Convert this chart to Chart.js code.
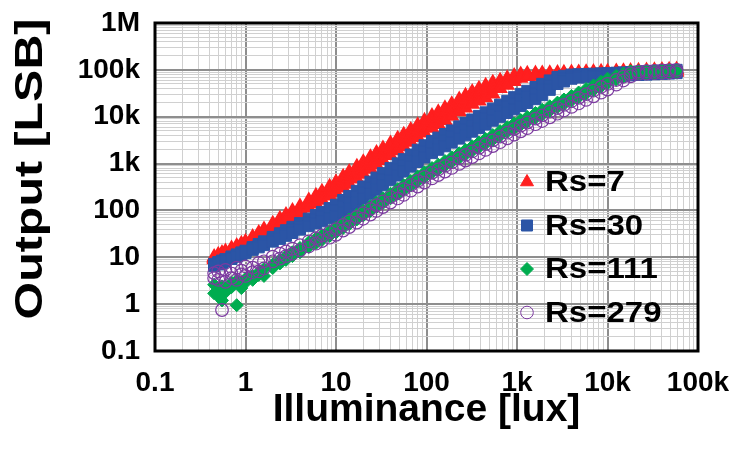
<!DOCTYPE html>
<html>
<head>
<meta charset="utf-8">
<title>Output vs Illuminance</title>
<script src="https://cdn.jsdelivr.net/npm/chart.js@4.4.1/dist/chart.umd.min.js"></script>
<style>
	html, body { margin: 0; padding: 0; background: #fff; }
	#wrap { width: 732px; height: 455px; }
</style>
</head>
<body>
<div id="wrap"><canvas id="chart" width="732" height="455"></canvas></div>
<script>
// illuminance steps (lux), shared by all four curves
var lux = [0.45, 0.5, 0.55, 0.6, 0.7, 0.8, 0.9, 1, 1.2, 1.4, 1.6, 2, 2.4, 2.8, 3.3, 4, 5, 6, 7, 8.5,
	10, 12, 14, 17, 20, 24, 28, 33, 40, 48, 56, 67, 80, 95, 115, 135, 160, 190, 230, 270,
	320, 380, 450, 540, 650, 780, 930, 1100, 1300, 1600, 1900, 2300, 2800, 3300, 4000, 4800, 5800, 7000, 8500, 10000,
	12500, 15000, 18000, 22000, 27000, 33000, 40000, 48000, 58000];

// output [LSB] per Rs: readings across the width of each band
var rs7Upper = [10.2, 11.3, 12.3, 13.3, 15.4, 17.4, 19.4, 21.4, 27, 33, 39.2, 52, 66.4, 80.2, 97.7, 122, 163, 205, 249, 321,
	398, 522, 659, 857, 1070, 1370, 1690, 2110, 2690, 3400, 4140, 5210, 6550, 8170, 10300, 12400, 15100, 18500, 23200, 27900,
	33600, 39400, 46000, 53200, 58900, 66100, 74100, 79400, 82200, 83200, 84100, 85100, 85900, 86700, 87500, 88300, 89100, 89900, 90800, 91600,
	92700, 93500, 94400, 95500, 96600, 97700, 98900, 100000, 101200];
var rs7Mid = [9.55, 10.5, 11.5, 12.4, 14.4, 16.3, 18.1, 20, 24.9, 30.1, 35.3, 46.3, 57.8, 69.8, 85.1, 107, 139, 173, 207, 261,
	316, 406, 500, 650, 813, 1040, 1290, 1600, 2040, 2580, 3140, 3950, 4970, 6190, 7800, 9400, 11500, 14100, 17600, 21200,
	25500, 29900, 34900, 41300, 49000, 56200, 64600, 72400, 77600, 78000, 78900, 79800, 80500, 81300, 82000, 82800, 83600, 84300, 85100, 85900,
	86900, 87700, 88500, 89500, 90600, 91600, 92700, 93800, 94800];
var rs7Lower = [8.9, 9.8, 10.7, 11.6, 13.4, 15.2, 16.9, 18.6, 23.2, 28.1, 33, 38.5, 48.1, 58.1, 70.8, 88.7, 113, 139, 164, 202,
	240, 301, 362, 471, 589, 755, 931, 1160, 1480, 1870, 2280, 2860, 3600, 4490, 5650, 6810, 8320, 10200, 12700, 15300,
	18500, 21600, 25300, 30600, 39800, 46800, 56200, 66100, 72400, 73300, 74100, 75000, 75700, 76400, 77100, 77800, 78500, 79300, 80000, 80700,
	81700, 82400, 83200, 84100, 85100, 86100, 87100, 88100, 89100];

var rs30Upper = [7.24, 7.89, 8.51, 9.14, 10.4, 11.5, 12.7, 13.8, 16.5, 19.2, 21.9, 27.2, 32.5, 37.8, 44.6, 53.7, 66.8, 79.8, 92.9, 112,
	132, 167, 204, 262, 324, 411, 502, 624, 800, 1010, 1240, 1560, 1970, 2460, 3040, 3580, 4270, 5090, 6210, 7310,
	8710, 10400, 12400, 14900, 18100, 21800, 26100, 30700, 35700, 43100, 50200, 59400, 70500, 74600, 79400, 80500, 81700, 82800, 84100, 85100,
	86900, 88300, 89700, 91400, 93100, 94800, 96600, 98200, 100000];
var rs30Mid = [6.84, 7.45, 8.04, 8.63, 9.78, 10.9, 12, 13, 15.4, 17.7, 20, 24.2, 28.3, 32.9, 38.4, 45.7, 55.6, 64.9, 73.8, 87,
	100, 124, 151, 194, 240, 305, 372, 463, 593, 749, 918, 1160, 1460, 1820, 2250, 2660, 3160, 3780, 4600, 5420,
	6460, 7710, 9190, 11100, 13400, 16200, 19400, 22800, 26500, 32000, 38100, 47200, 59300, 65000, 71600, 74300, 75400, 76400, 77600, 78500,
	80200, 81500, 82800, 84300, 85900, 87500, 89100, 90600, 92200];
var rs30Lower = [6.46, 7.03, 7.59, 8.15, 9.2, 10.3, 11.3, 12.3, 14.4, 16.3, 18.2, 21.6, 24.7, 28.7, 33, 38.9, 46.2, 52.7, 58.6, 67.6,
	75.9, 91.8, 112, 144, 178, 226, 276, 343, 440, 556, 679, 859, 1080, 1350, 1670, 1970, 2340, 2800, 3410, 4020,
	4790, 5710, 6810, 8200, 9930, 12000, 14400, 16900, 19600, 23700, 28900, 37500, 49900, 56600, 64600, 68500, 69500, 70500, 71600, 72400,
	74000, 75200, 76400, 77800, 79300, 80700, 82200, 83600, 85100];

var rs111Upper = [2.6, 2.0, 2.4, 1.8, 2.9, 3.2, 2.2, 3.5, 4.0, 4.8, 5.6, 7.0, 8.8, 10.6, 12.8, 15.8, 20.9, 25.2, 29.5, 36.1,
	42.7, 53.2, 64.1, 80.9, 98.6, 123, 148, 181, 228, 284, 343, 426, 528, 650, 802, 948, 1130, 1360, 1660, 1960,
	2340, 2810, 3360, 4060, 4940, 5980, 7180, 8470, 9890, 12000, 14000, 16700, 20000, 23300, 27800, 32900, 39100, 46500, 55600, 64600,
	74500, 83700, 93300, 94400, 95500, 96600, 97700, 98900, 100000];
var rs111Lower = [1.7, 1.5, 1.2, 2.1, 2.3, 0.95, 2.8, 2.9, 3.3, 4.2, 4.0, 5.9, 7.4, 8.8, 10.6, 12.8, 16.6, 20, 23.4, 28.6,
	33.9, 42.3, 50.9, 64.3, 78.3, 97.7, 118, 144, 181, 226, 272, 338, 420, 516, 637, 753, 899, 1080, 1320, 1560,
	1860, 2230, 2670, 3230, 3930, 4750, 5700, 6730, 7850, 9510, 11100, 13300, 15900, 18500, 22100, 26100, 31000, 36900, 44200, 51300,
	61900, 71300, 81300, 82200, 83200, 84100, 85100, 86100, 87100];

var rs279Upper = [4.6, 5.0, 4.2, 5.4, 4.5, 6.0, 5.2, 6.4, 6.0, 7.6, 8.2, 10.3, 11.9, 13.4, 15.3, 18.1, 21.9, 25.6, 29.3, 34.6,
	39.8, 49, 58.3, 72.8, 87.7, 108, 129, 156, 193, 238, 284, 348, 426, 519, 635, 748, 891, 1060, 1300, 1530,
	1820, 2170, 2590, 3120, 3780, 4560, 5460, 6430, 7520, 9120, 10700, 12800, 15300, 17900, 21400, 25300, 30200, 36000, 43100, 50100,
	60800, 71300, 83600, 92000, 93500, 95300, 96800, 98400, 100000];
var rs279Lower = [3.6, 3.3, 0.75, 3.0, 3.6, 3.3, 4.3, 4.0, 4.8, 5.0, 5.8, 8.2, 9.4, 10.6, 11.9, 14.1, 17, 19.5, 22.2, 26.2,
	30.2, 37.2, 44.3, 55.2, 66.5, 81.8, 97.7, 118, 147, 180, 215, 264, 323, 394, 482, 568, 676, 807, 984, 1160,
	1380, 1650, 1960, 2370, 2860, 3460, 4140, 4880, 5700, 6920, 8110, 9700, 11600, 13600, 16200, 19200, 22900, 27300, 32700, 38000,
	48300, 59300, 72800, 82000, 83400, 84900, 86300, 87700, 89100];

var seriesNames = ['Rs=7', 'Rs=30', 'Rs=111', 'Rs=279'];

var xDecades = [0.1, 1, 10, 100, 1000, 10000, 100000];
var xTickLabels = ['0.1', '1', '10', '100', '1k', '10k', '100k'];
var yDecades = [0.1, 1, 10, 100, 1000, 10000, 100000, 1000000];
var yTickLabels = ['0.1', '1', '10', '100', '1k', '10k', '100k', '1M'];

var FONT = '"Liberation Sans", Arial, Helvetica, sans-serif';

// one tick per 1..9 step of every decade, decades flagged as major
var buildLogTicks = function(decades) {
	var ticks = [];
	decades.forEach(function(d, i) {
		ticks.push({value: d, major: true});
		if (i < decades.length - 1) {
			for (var m = 2; m <= 9; m++) {
				ticks.push({value: +(d * m).toPrecision(3), major: false});
			}
		}
	});
	return ticks;
};

// every reading row of a series becomes its own set of points at the same lux steps
var toPoints = function(rows) {
	var pts = [];
	rows.forEach(function(row) {
		lux.forEach(function(x, i) {
			pts.push({x: x, y: row[i]});
		});
	});
	return pts;
};

var gridColor = function(ctx) {
	return ctx.tick && ctx.tick.major ? '#8e8e8e' : '#d0d0d0';
};
var gridWidth = function(ctx) {
	return ctx.tick && ctx.tick.major ? 2 : 1;
};

// frame, y title and the legend sitting inside the plot
var framePlugin = {
	id: 'frameAndLegend',
	afterDraw: function(chart) {
		var ctx = chart.ctx;
		var area = chart.chartArea;
		ctx.save();
		ctx.strokeStyle = '#000';
		ctx.lineWidth = 3;
		ctx.strokeRect(area.left, area.top, area.right - area.left, area.bottom - area.top);

		// y title, drawn a bit stretched along its length
		ctx.save();
		ctx.translate(31, 169);
		ctx.rotate(-Math.PI / 2);
		ctx.scale(1.24, 1);
		ctx.font = 'bold 39px ' + FONT;
		ctx.fillStyle = '#000';
		ctx.textAlign = 'center';
		ctx.textBaseline = 'middle';
		ctx.fillText('Output [LSB]', 0, 0);
		ctx.restore();

		ctx.font = 'bold 30px ' + FONT;
		ctx.textBaseline = 'middle';
		ctx.textAlign = 'left';
		chart.data.datasets.forEach(function(ds, i) {
			var y = area.top + 159 + i * 43.5;
			var x = area.left + 372;
			ctx.fillStyle = ds.backgroundColor;
			ctx.strokeStyle = ds.borderColor;
			ctx.lineWidth = 1;
			Chart.helpers.drawPoint(ctx, {
				pointStyle: ds.pointStyle,
				radius: ds.legendRadius,
				borderWidth: 1,
				rotation: 0
			}, x, y);
			ctx.save();
			ctx.translate(area.left + 390, y + 1);
			ctx.scale(1.1, 1);
			ctx.fillStyle = '#000';
			ctx.fillText(seriesNames[i], 0, 0);
			ctx.restore();
		});
		ctx.restore();
	}
};

var ctx = document.getElementById('chart');
var chart = new Chart(ctx, {
	type: 'scatter',
	data: {
		datasets: [
			{
				label: seriesNames[0],
				data: toPoints([rs7Upper, rs7Mid, rs7Lower]),
				pointStyle: 'triangle',
				pointRadius: 7.5,
				legendRadius: 7.5,
				backgroundColor: '#ff1f1f',
				borderColor: '#ff1f1f',
				borderWidth: 1.5,
				order: 4
			},
			{
				label: seriesNames[1],
				data: toPoints([rs30Upper, rs30Mid, rs30Lower]),
				pointStyle: 'rect',
				pointRadius: 7.8,
				legendRadius: 7.8,
				backgroundColor: '#2b55a6',
				borderColor: '#2b55a6',
				borderWidth: 1,
				order: 3
			},
			{
				label: seriesNames[2],
				data: toPoints([rs111Upper, rs111Lower]),
				pointStyle: 'rectRot',
				pointRadius: 6.5,
				legendRadius: 6.5,
				backgroundColor: '#00ac4f',
				borderColor: '#00ac4f',
				borderWidth: 1,
				order: 2
			},
			{
				label: seriesNames[3],
				data: toPoints([rs279Upper, rs279Lower]),
				pointStyle: 'circle',
				pointRadius: 6.3,
				legendRadius: 6.3,
				backgroundColor: 'rgba(0,0,0,0)',
				borderColor: '#7c3aa0',
				borderWidth: 1.2,
				order: 1
			}
		]
	},
	options: {
		responsive: false,
		devicePixelRatio: 1,
		animation: false,
		events: [],
		layout: {
			padding: {top: 23, right: 34, left: 0, bottom: 0}
		},
		plugins: {
			legend: {display: false},
			tooltip: {enabled: false}
		},
		scales: {
			x: {
				type: 'logarithmic',
				position: 'bottom',
				min: 0.1,
				max: 100000,
				afterBuildTicks: function(axis) {
					axis.ticks = buildLogTicks(xDecades);
				},
				afterFit: function(axis) {
					axis.height = 104;
					axis.paddingLeft = 0;
					axis.paddingRight = 0;
				},
				ticks: {
					autoSkip: false,
					maxRotation: 0,
					padding: 15,
					color: '#000',
					font: {family: FONT, size: 28, weight: 'bold'},
					callback: function(value) {
						var i = xDecades.indexOf(value);
						return i >= 0 ? xTickLabels[i] : '';
					}
				},
				grid: {
					color: gridColor,
					lineWidth: gridWidth,
					drawTicks: false
				},
				border: {display: false},
				title: {
					display: true,
					text: 'Illuminance [lux]',
					color: '#000',
					font: {family: FONT, size: 39, weight: 'bold', lineHeight: 1.2},
					padding: {top: 0, bottom: 21}
				}
			},
			y: {
				type: 'logarithmic',
				position: 'left',
				min: 0.1,
				max: 1000000,
				afterBuildTicks: function(axis) {
					axis.ticks = buildLogTicks(yDecades);
				},
				afterFit: function(axis) {
					axis.width = 155;
					axis.paddingTop = 0;
					axis.paddingBottom = 0;
				},
				ticks: {
					autoSkip: false,
					padding: 15,
					color: '#000',
					font: {family: FONT, size: 28, weight: 'bold'},
					callback: function(value) {
						var i = yDecades.indexOf(value);
						return i >= 0 ? yTickLabels[i] : '';
					}
				},
				grid: {
					color: gridColor,
					lineWidth: gridWidth,
					drawTicks: false
				},
				border: {display: false},
				title: {display: false}
			}
		}
	},
	plugins: [framePlugin]
});
</script>
</body>
</html>
